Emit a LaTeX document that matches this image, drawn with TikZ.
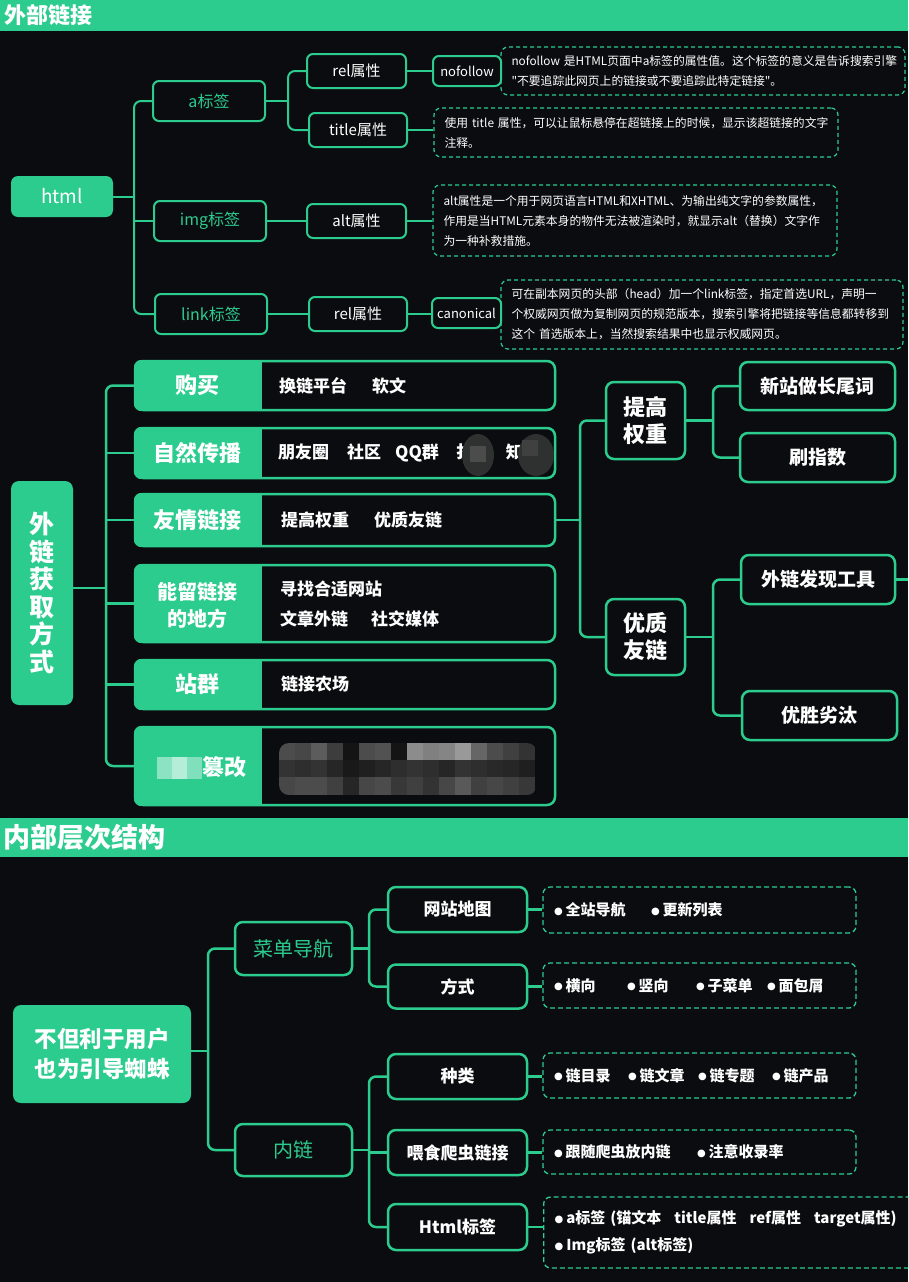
\documentclass[tikz,border=0pt]{standalone}
\usepackage{fontspec}
\setmainfont{Noto Sans CJK SC}[Ligatures=TeXOff]
\newfontfamily\dotfont{DejaVu Sans}
\usetikzlibrary{positioning}
\definecolor{grn}{RGB}{44,204,143}
\definecolor{bgc}{RGB}{11,12,15}
\definecolor{blobc}{RGB}{46,49,48}
\newcommand\fsz[2]{\fontsize{#1}{#2}\selectfont}
\newcommand\bul{\raisebox{1.5pt}{\dotfont\fontsize{10}{10}\selectfont ●}\hspace{3pt}}
\tikzset{
  conn/.style={draw=grn,line width=2.2pt,rounded corners=7pt},
  head/.style={anchor=west,text=white,inner sep=0pt},
  rootbox/.style={fill=grn,rounded corners=7pt,text=white,inner sep=0pt,align=center},
  tagbox/.style={draw=grn,line width=2pt,rounded corners=6pt,fill=bgc,text=white,inner sep=0pt,align=center},
  note/.style={draw=grn,dash pattern=on 4pt off 3pt,line width=1.2pt,rounded corners=7pt,fill=bgc,text=white,align=left,inner xsep=10.5pt,inner ysep=0pt,font=\fsz{11.8}{20}},
  dnote/.style={draw=grn,dash pattern=on 5pt off 3pt,line width=1.3pt,rounded corners=7pt,fill=bgc,text=white,align=left,inner xsep=11pt,inner ysep=0pt,font=\bfseries\fsz{15}{27}},
  rowbox/.style={draw=grn,line width=2.5pt,rounded corners=8pt,fill=bgc,minimum width=420pt,inner sep=0pt},
  rowlab/.style={text=white,font=\bfseries\fsz{22}{27},align=center,inner sep=0pt},
  rowtxt/.style={anchor=west,text=white,font=\bfseries\fsz{17}{30},align=left,inner sep=0pt},
  sidebox/.style={draw=grn,line width=2.5pt,rounded corners=8pt,fill=bgc,text=white,inner sep=0pt,align=center,font=\bfseries\fsz{19}{27}}
}

\begin{document}
\begin{tikzpicture}[x=1pt,y=-1pt]
\clip (0,0) rectangle (908,1282);
\fill[bgc] (0,0) rectangle (908,1282);

% outer links
\fill[grn] (0,0) rectangle (908,31);
\node[head,font=\bfseries\fsz{22}{24}] (outtitle) at (4,15) {外部链接};

\node[rootbox,minimum width=102pt,minimum height=41pt,font=\fsz{19}{22}] (html) at (62,196.5) {html};
\node[tagbox,minimum width=112pt,minimum height=40pt,text=grn,font=\fsz{16}{20}] (atag) at (209,101) {a标签};
\node[tagbox,minimum width=112pt,minimum height=40pt,text=grn,font=\fsz{16}{20}] (imgtag) at (210,221) {img标签};
\node[tagbox,minimum width=112pt,minimum height=40pt,text=grn,font=\fsz{16}{20}] (linktag) at (211,314) {link标签};
\node[tagbox,minimum width=99pt,minimum height=34pt,font=\fsz{15}{18}] (rel) at (356.5,71) {rel属性};
\node[tagbox,minimum width=98pt,minimum height=34pt,font=\fsz{15}{18}] (title) at (358,130) {title属性};
\node[tagbox,minimum width=99pt,minimum height=34pt,font=\fsz{15}{18}] (alt) at (356.5,221) {alt属性};
\node[tagbox,minimum width=98pt,minimum height=34pt,font=\fsz{15}{18}] (relb) at (358,314) {rel属性};

\node[note,minimum width=404pt,minimum height=48pt,text width=383pt] (nofnote) at (703,71)
  {nofollow 是HTML页面中a标签的属性值。这个标签的意义是告诉搜索引擎\\"不要追踪此网页上的链接或不要追踪此特定链接"。};
\node[tagbox,minimum width=68pt,minimum height=30pt,font=\fsz{13}{16}] (nof) at (467,71) {nofollow};
\node[note,minimum width=404pt,minimum height=49pt,text width=383pt] (titlenote) at (636,132.5)
  {使用 title 属性，可以让鼠标悬停在超链接上的时候，显示该超链接的文字\\注释。};
\node[note,minimum width=404pt,minimum height=71pt,text width=383pt] (altnote) at (635,220.5)
  {alt属性是一个用于网页语言HTML和XHTML、为输出纯文字的参数属性，\\作用是当HTML元素本身的物件无法被渲染时，就显示alt（替换）文字作\\为一种补救措施。};
\node[note,minimum width=402pt,minimum height=69pt,text width=381pt] (cannote) at (702,314.5)
  {可在副本网页的头部（head）加一个link标签，指定首选URL，声明一\\个权威网页做为复制网页的规范版本，搜索引擎将把链接等信息都转移到\\这个 首选版本上，当然搜索结果中也显示权威网页。};
\node[tagbox,minimum width=69pt,minimum height=30pt,font=\fsz{13}{16}] (canon) at (466.5,313) {canonical};

\coordinate (t1) at (134,0);
\coordinate (t1a) at (288,0);
\draw[conn,line width=2pt] (atag.west) -| (t1 |- linktag.west) -- (linktag.west);
\draw[conn,line width=2pt] (html.east) -- (html.east -| t1);
\draw[conn,line width=2pt] (imgtag.west) -- (imgtag.west -| t1);
\draw[conn,line width=2pt] (rel.west) -| (t1a |- title.west) -- (title.west);
\draw[conn,line width=2pt] (atag.east) -- (atag.east -| t1a);
\draw[conn,line width=2pt] (imgtag.east) -- (alt.west);
\draw[conn,line width=2pt] (linktag.east) -- (relb.west);
\draw[conn,line width=2pt] (rel.east) -- (nof.west);
\draw[conn,line width=2pt] (title.east) -- (title.east -| titlenote.west);
\draw[conn,line width=2pt] (alt.east) -- (alt.east -| altnote.west);
\draw[conn,line width=2pt] (relb.east) -- (relb.east -| canon.west);

% ways to get links
\node[rootbox,rounded corners=8pt,minimum width=62pt,minimum height=224pt,font=\bfseries\fsz{25}{27.5}] (ways) at (42,593) {外\\链\\获\\取\\方\\式};

\node[rowbox,minimum height=49pt] (buy) at (345,385.5) {};
\node[rowbox,minimum height=50pt] (spread) at (345,453) {};
\node[rowbox,minimum height=52pt] (friend) at (345,520) {};
\node[rowbox,minimum height=77pt] (place) at (345,603.5) {};
\node[rowbox,minimum height=49pt] (group) at (345,684.5) {};
\node[rowbox,minimum height=78pt] (tamper) at (345,766) {};
\foreach \r in {buy,spread,friend,place,group,tamper}{
  \begin{scope}
    \clip[rounded corners=8pt] (\r.north west) rectangle (\r.south east);
    \fill[grn] (\r.north west) rectangle ([xshift=128pt]\r.south west);
  \end{scope}
}
\node[rowlab] (buylab) at ([xshift=64pt]buy.west) {购买};
\node[rowlab] (spreadlab) at ([xshift=64pt]spread.west) {自然传播};
\node[rowlab] (friendlab) at ([xshift=64pt]friend.west) {友情链接};
\node[rowlab,font=\bfseries\fsz{20}{27}] (placelab) at ([xshift=64pt,yshift=-2pt]place.west) {能留链接\\的地方};
\node[rowlab] (grouplab) at ([xshift=64pt]group.west) {站群};
\node[rowlab,anchor=west] (tamperlab) at (202,767) {篡改};
\fill[grn!55!white] (157,757) rectangle +(15,22);
\fill[grn!35!white] (172,757) rectangle +(15,22);
\fill[grn!60!white] (187,757) rectangle +(15,22);

\node[rowtxt] (buytxt) at (279,385.5) {换链平台\hspace{25pt}软文};
\node[rowtxt] (spreadtxt) at (278,453) {朋友圈\hspace{18pt}社区\hspace{14pt}QQ群\hspace{17pt}扌\hspace{33pt}知};
\fill[blobc] (478,455) ellipse [x radius=16pt,y radius=21pt];
\fill[blobc] (536,455) ellipse [x radius=18pt,y radius=21pt];
\fill[black!70!white] (470,446) rectangle +(16,16);
\fill[black!75!white] (522,440) rectangle +(16,16);
\node[rowtxt] (friendtxt) at (281,520) {提高权重\hspace{25pt}优质友链};
\node[rowtxt] (placetxt) at (280,604) {寻找合适网站\\文章外链\hspace{23pt}社交媒体};
\node[rowtxt] (grouptxt) at (281,684.5) {链接农场};
\begin{scope}
  \clip[rounded corners=10pt] (279,743) rectangle (537,795);
  \foreach \g [count=\i from 0] in {30,28,36,24,8,30,32,8,55,50,52,60,40,30,25,20}
    \fill[white!\g!black] (279+16*\i,743) rectangle +(16,17);
  \foreach \g [count=\i from 0] in {20,18,20,15,10,12,15,18,20,18,15,20,18,16,15,12}
    \fill[white!\g!black] (279+16*\i,760) rectangle +(16,17);
  \foreach \g [count=\i from 0] in {28,30,30,25,15,28,30,22,25,20,28,35,25,28,25,22}
    \fill[white!\g!black] (279+16*\i,777) rectangle +(16,18);
\end{scope}

\node[sidebox,minimum width=79pt,minimum height=77pt,font=\bfseries\fsz{22}{27}] (raise) at (645.5,420.5) {提高\\权重};
\node[sidebox,minimum width=79pt,minimum height=76pt,font=\bfseries\fsz{22}{27}] (good) at (645.5,637) {优质\\友链};
\node[sidebox,minimum width=155pt,minimum height=48pt] (newsite) at (817.5,386) {新站做长尾词};
\node[sidebox,minimum width=155pt,minimum height=49pt] (brush) at (817.5,457.5) {刷指数};
\node[sidebox,minimum width=154pt,minimum height=49pt] (tool) at (818,579.5) {外链发现工具};
\node[sidebox,minimum width=155pt,minimum height=49pt] (elim) at (819.5,715.5) {优胜劣汰};

\coordinate (t2) at (106,0);
\coordinate (t3) at (580,0);
\coordinate (t4) at (713,0);
\coordinate (rim) at (908,579.5);
\draw[conn,line width=2.5pt] (buy.west) -| (t2 |- tamper.west) -- (tamper.west);
\draw[conn,line width=2.5pt] ([yshift=5pt]ways.east) -- ([yshift=5pt]ways.east -| t2);
\foreach \r in {spread,friend,place,group}
  \draw[conn,line width=2.5pt] (\r.west) -- (\r.west -| t2);
\draw[conn,line width=2.5pt] (raise.west) -| (t3 |- good.west) -- (good.west);
\draw[conn,line width=2.5pt] (friend.east) -- (friend.east -| t3);
\draw[conn,line width=2.5pt] (newsite.west) -| (t4 |- brush.west) -- (brush.west);
\draw[conn,line width=2.5pt] (raise.east) -- (raise.east -| t4);
\draw[conn,line width=2.5pt] (tool.west) -| (t4 |- elim.west) -- (elim.west);
\draw[conn,line width=2.5pt] (good.east) -- (good.east -| t4);
\draw[conn,line width=2.5pt] (tool.east) -- (rim);

% inner structure
\fill[grn] (0,818) rectangle (908,857);
\node[head,font=\bfseries\fsz{27}{30}] (intitle) at (3,837) {内部层次结构};

\node[rootbox,rounded corners=8pt,minimum width=178pt,minimum height=98pt,font=\bfseries\fsz{22.5}{30}] (spider) at (102,1054) {不但利于用户\\也为引导蜘蛛};
\node[sidebox,minimum width=117pt,minimum height=53pt,text=grn,font=\fsz{20}{24}] (menu) at (293.5,948.5) {菜单导航};
\node[sidebox,minimum width=117pt,minimum height=52pt,text=grn,font=\fsz{20}{24}] (inner) at (293.5,1150) {内链};
\node[sidebox,minimum width=139pt,minimum height=45pt,font=\bfseries\fsz{17}{20}] (sitemap) at (457.5,909.5) {网站地图};
\node[sidebox,minimum width=139pt,minimum height=44pt,font=\bfseries\fsz{17}{20}] (mode) at (457.5,986.5) {方式};
\node[sidebox,minimum width=139pt,minimum height=45pt,font=\bfseries\fsz{17}{20}] (kind) at (457.5,1076.5) {种类};
\node[sidebox,minimum width=139pt,minimum height=45pt,font=\bfseries\fsz{17}{20}] (feed) at (457.5,1152.5) {喂食爬虫链接};
\node[sidebox,minimum width=139pt,minimum height=46pt,font=\bfseries\fsz{17}{20}] (htmltag) at (457.5,1227) {Html标签};

\node[dnote,minimum width=313pt,minimum height=46pt,text width=291pt] (maplist) at (699.5,910)
  {\makebox[97pt][l]{\bul 全站导航}\bul 更新列表};
\node[dnote,minimum width=313pt,minimum height=45pt,text width=291pt] (modelist) at (699.5,985.5)
  {\makebox[73pt][l]{\bul 横向}\makebox[69pt][l]{\bul 竖向}\makebox[71pt][l]{\bul 子菜单}\bul 面包屑};
\node[dnote,minimum width=313pt,minimum height=45pt,text width=291pt] (kindlist) at (699.5,1075.5)
  {\makebox[74pt][l]{\bul 链目录}\makebox[70pt][l]{\bul 链文章}\makebox[74pt][l]{\bul 链专题}\bul 链产品};
\node[dnote,minimum width=313pt,minimum height=44pt,text width=291pt] (feedlist) at (699.5,1152)
  {\makebox[143pt][l]{\bul 跟随爬虫放内链}\bul 注意收录率};
\node[dnote,anchor=west,minimum height=71pt,text width=400pt] (taglist) at (543,1232.5)
  {\bul a标签 (锚文本\hspace{13pt}title属性\hspace{13pt}ref属性\hspace{13pt}target属性)\\\bul Img标签 (alt标签)};

\coordinate (t5) at (208,0);
\coordinate (t6) at (369,0);
\draw[conn,line width=2.5pt] (menu.west) -| (t5 |- inner.west) -- (inner.west);
\draw[conn,line width=2.5pt] ([yshift=3pt]spider.east) -- ([yshift=3pt]spider.east -| t5);
\draw[conn,line width=2.5pt] (sitemap.west) -| (t6 |- mode.west) -- (mode.west);
\draw[conn,line width=2.5pt] (menu.east) -- (menu.east -| t6);
\draw[conn,line width=2.5pt] (kind.west) -| (t6 |- htmltag.west) -- (htmltag.west);
\draw[conn,line width=2.5pt] (inner.east) -- (inner.east -| t6);
\draw[conn,line width=2.5pt] (feed.west) -- (feed.west -| t6);
\foreach \a/\b in {sitemap/maplist,mode/modelist,kind/kindlist,feed/feedlist,htmltag/taglist}
  \draw[conn,line width=2.5pt] (\a.east) -- (\a.east -| \b.west);
\end{tikzpicture}
\end{document}
